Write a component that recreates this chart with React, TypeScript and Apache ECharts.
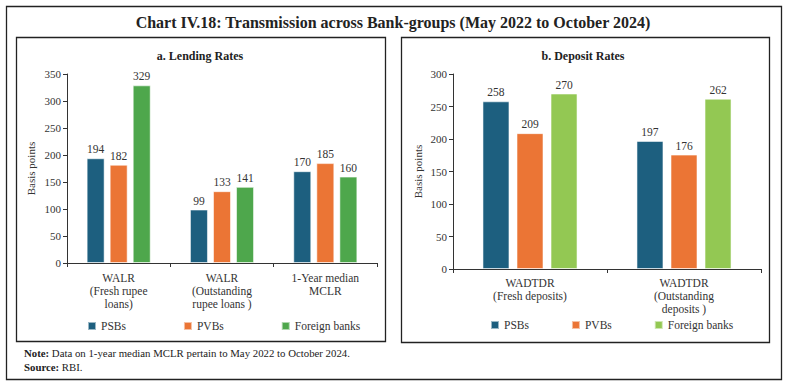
import React, { useEffect, useRef } from "react";
import * as echarts from "echarts";

const lendingCategories = ["WALR\n(Fresh rupee\nloans)", "WALR\n(Outstanding\nrupee loans )", "1-Year median\nMCLR"];
const lendingPSBs = [194, 99, 170];
const lendingPVBs = [182, 133, 185];
const lendingForeign = [329, 141, 160];

const depositCategories = ["WADTDR\n(Fresh deposits)", "WADTDR\n(Outstanding\ndeposits )"];
const depositPSBs = [258, 197];
const depositPVBs = [209, 176];
const depositForeign = [270, 262];

const seriesNames = ["PSBs", "PVBs", "Foreign banks"];

const BLUE = "#1D5F7F";
const ORANGE = "#EB7535";
const GREEN_A = "#4EA74C";
const GREEN_B = "#93C853";
const FONT = "'Liberation Serif', 'DejaVu Serif', serif";
const TXT = "#333";

export default function App() {
  const ref = useRef<HTMLDivElement>(null);
  useEffect(() => {
    if (!ref.current) return;
    const chart = echarts.init(ref.current, null, { renderer: "svg" });
    const barLabel = { show: true, position: "top", distance: 3, fontSize: 11.5, color: TXT, fontFamily: FONT };
    const yAxisBase = (max: number, gridIndex: number, nameGap: number) => ({
      type: "value",
      gridIndex,
      min: 0,
      max,
      interval: 50,
      name: "Basis points",
      nameLocation: "middle",
      nameGap,
      nameTextStyle: { fontSize: 11, color: TXT, fontFamily: FONT },
      axisLine: { show: true, lineStyle: { color: "#333", width: 1 } },
      axisTick: { show: true, length: 4, lineStyle: { color: "#333" } },
      axisLabel: { fontSize: 11, color: TXT, fontFamily: FONT, margin: 6 },
      splitLine: { show: false },
    });
    const xAxisBase = (data: string[], gridIndex: number, margin: number) => ({
      type: "category",
      gridIndex,
      data,
      axisLine: { show: true, lineStyle: { color: "#333", width: 1 } },
      axisTick: { show: true, length: 4, lineStyle: { color: "#333" } },
      axisLabel: { fontSize: 11.5, color: TXT, fontFamily: FONT, margin, lineHeight: 13, interval: 0 },
    });
    const bar = (name: string, data: number[], color: string, idx: number, barWidth: number, gap: string) => ({
      type: "bar",
      name,
      data,
      xAxisIndex: idx,
      yAxisIndex: idx,
      barWidth,
      barGap: gap,
      itemStyle: { color, borderColor: "rgba(255,255,255,0.55)", borderWidth: 1 },
      label: barLabel,
    });
    const legendBase = (left: number, top: number, gap: number, green: string) => ({
      top,
      left,
      padding: 0,
      itemWidth: 8,
      itemHeight: 8,
      itemGap: gap,
      icon: "rect",
      textStyle: { fontSize: 11.5, color: TXT, fontFamily: FONT },
      selectedMode: false,
      data: [
        { name: seriesNames[0], itemStyle: { color: BLUE } },
        { name: seriesNames[1], itemStyle: { color: ORANGE } },
        { name: seriesNames[2], itemStyle: { color: green } },
      ],
    });
    chart.setOption({
      animation: false,
      backgroundColor: "#fff",
      textStyle: { fontFamily: FONT },
      grid: [
        { left: 67, right: 409, top: 74, bottom: 124 },
        { left: 453, right: 25, top: 74, bottom: 118 },
      ],
      xAxis: [xAxisBase(lendingCategories, 0, 8), xAxisBase(depositCategories, 1, 7)],
      yAxis: [yAxisBase(350, 0, 31), yAxisBase(300, 1, 30)],
      legend: [legendBase(87, 320, 57, GREEN_A), legendBase(490, 319, 42, GREEN_B)],
      series: [
        bar(seriesNames[0], lendingPSBs, BLUE, 0, 18, "28%"),
        bar(seriesNames[1], lendingPVBs, ORANGE, 0, 18, "28%"),
        bar(seriesNames[2], lendingForeign, GREEN_A, 0, 18, "28%"),
        bar(seriesNames[0], depositPSBs, BLUE, 1, 27, "26%"),
        bar(seriesNames[1], depositPVBs, ORANGE, 1, 27, "26%"),
        bar(seriesNames[2], depositForeign, GREEN_B, 1, 27, "26%"),
      ],
      graphic: [
        { type: "rect", shape: { x: 6.5, y: 6.5, width: 775, height: 373 }, style: { fill: "none", stroke: "#222", lineWidth: 1.3 }, silent: true },
        { type: "rect", shape: { x: 16.5, y: 37.5, width: 369, height: 304 }, style: { fill: "none", stroke: "#222", lineWidth: 1.3 }, silent: true },
        { type: "rect", shape: { x: 401.5, y: 37.5, width: 368, height: 305 }, style: { fill: "none", stroke: "#222", lineWidth: 1.3 }, silent: true },
        {
          type: "text", x: 393, y: 22,
          style: { text: "Chart IV.18: Transmission across Bank-groups (May 2022 to October 2024)", font: `bold 16px ${FONT}`, fill: "#222", align: "center", verticalAlign: "middle" },
        },
        {
          type: "text", x: 200, y: 56,
          style: { text: "a. Lending Rates", font: `bold 12px ${FONT}`, fill: "#222", align: "center", verticalAlign: "middle" },
        },
        {
          type: "text", x: 583, y: 56,
          style: { text: "b. Deposit Rates", font: `bold 12px ${FONT}`, fill: "#222", align: "center", verticalAlign: "middle" },
        },
        {
          type: "text", x: 24, y: 353,
          style: {
            text: "{b|Note:} Data on 1-year median MCLR pertain to May 2022 to October 2024.",
            rich: {
              b: { fontWeight: "bold", fontSize: 10.8, fontFamily: FONT, fill: "#222" },
            },
            fontSize: 10.8, fontFamily: FONT, fill: "#222", verticalAlign: "middle",
          },
        },
        {
          type: "text", x: 24, y: 367,
          style: {
            text: "{b|Source:} RBI.",
            rich: {
              b: { fontWeight: "bold", fontSize: 10.8, fontFamily: FONT, fill: "#222" },
            },
            fontSize: 10.8, fontFamily: FONT, fill: "#222", verticalAlign: "middle",
          },
        },
      ],
    });
    return () => chart.dispose();
  }, []);
  return <div ref={ref} style={{ position: "fixed", left: 0, top: 0, width: 786, height: 387 }} />;
}
